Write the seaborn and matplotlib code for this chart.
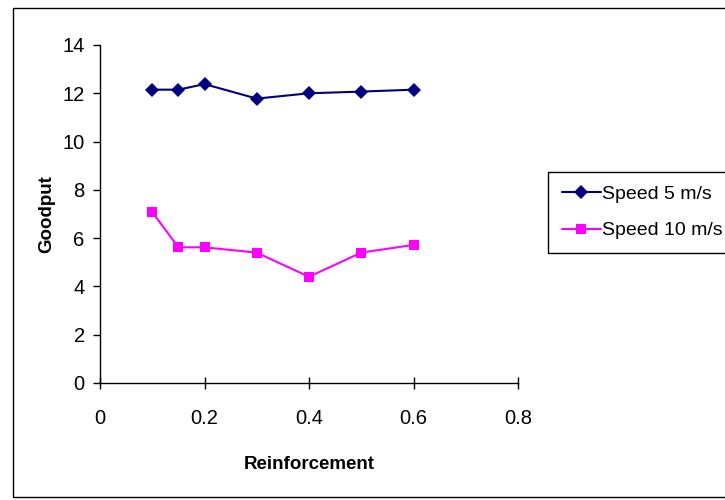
import matplotlib
matplotlib.use("Agg")
import matplotlib.pyplot as plt
import seaborn as sns
import pandas as pd
from matplotlib.patches import Rectangle

reinforcement = [0.1, 0.15, 0.2, 0.3, 0.4, 0.5, 0.6]
speed5 = [12.15, 12.15, 12.38, 11.78, 12.0, 12.07, 12.15]
speed10 = [7.08, 5.62, 5.62, 5.4, 4.4, 5.4, 5.72]
series_names = ["Speed 5 m/s", "Speed 10 m/s"]
x_ticks = [0, 0.2, 0.4, 0.6, 0.8]
y_ticks = [0, 2, 4, 6, 8, 10, 12, 14]

df = pd.DataFrame({
    "Reinforcement": reinforcement * 2,
    "Goodput": speed5 + speed10,
    "series": [series_names[0]] * len(reinforcement) + [series_names[1]] * len(reinforcement),
})

sns.set_style("white")
plt.rcParams["font.family"] = ["Liberation Sans", "DejaVu Sans"]
plt.rcParams["text.color"] = "black"
plt.rcParams["axes.labelcolor"] = "black"
plt.rcParams["xtick.color"] = "black"
plt.rcParams["ytick.color"] = "black"

fig = plt.figure(figsize=(7.25, 5), dpi=100)
ax = fig.add_axes([100 / 725, 1 - 383 / 500, 418 / 725, 338 / 500])

sns.lineplot(
    data=df, x="Reinforcement", y="Goodput", hue="series", style="series",
    hue_order=series_names, style_order=series_names,
    palette={series_names[0]: "#000080", series_names[1]: "#FF00FF"},
    markers={series_names[0]: "D", series_names[1]: "s"},
    dashes=False, markersize=7, markeredgewidth=0, linewidth=1.5, ax=ax,
    legend=True,
)

ax.set_xlim(0, 0.8)
ax.set_ylim(0, 14)
ax.set_xticks(x_ticks)
ax.set_xticklabels(["0", "0.2", "0.4", "0.6", "0.8"])
ax.set_yticks(y_ticks)
ax.set_yticklabels([str(v) for v in y_ticks])
for s in ["top", "right"]:
    ax.spines[s].set_visible(False)
for s in ["left", "bottom"]:
    ax.spines[s].set_color("black")
    ax.spines[s].set_linewidth(1.0)
ax.tick_params(axis="both", which="major", width=1,
               color="black", labelcolor="black", labelsize=14.5,
               bottom=True, left=True)
ax.tick_params(axis="x", direction="inout", length=8, pad=15)
ax.tick_params(axis="y", direction="out", length=5, pad=6)
ax.set_xlabel("Reinforcement", fontsize=13.5, fontweight="bold", labelpad=20,
              color="black")
ax.set_ylabel("Goodput", fontsize=13.5, fontweight="bold", labelpad=5,
              color="black")

handles, labels = ax.get_legend_handles_labels()
ax.get_legend().remove()
leg = fig.legend(handles, labels, loc="upper left",
                 bbox_to_anchor=(548 / 725, 1 - 172 / 500),
                 bbox_transform=fig.transFigure, fontsize=14, frameon=True,
                 fancybox=False, edgecolor="black", framealpha=1,
                 handlelength=2.0, handletextpad=0.1, borderpad=0.7,
                 labelspacing=0.95, borderaxespad=0)
leg.get_frame().set_linewidth(1.0)

fig.patches.append(Rectangle((13 / 725, 3 / 500), 1.0, 1 - 11 / 500,
                             transform=fig.transFigure, fill=False,
                             edgecolor="black", linewidth=1.0))

fig.savefig("out.png", dpi=100)
